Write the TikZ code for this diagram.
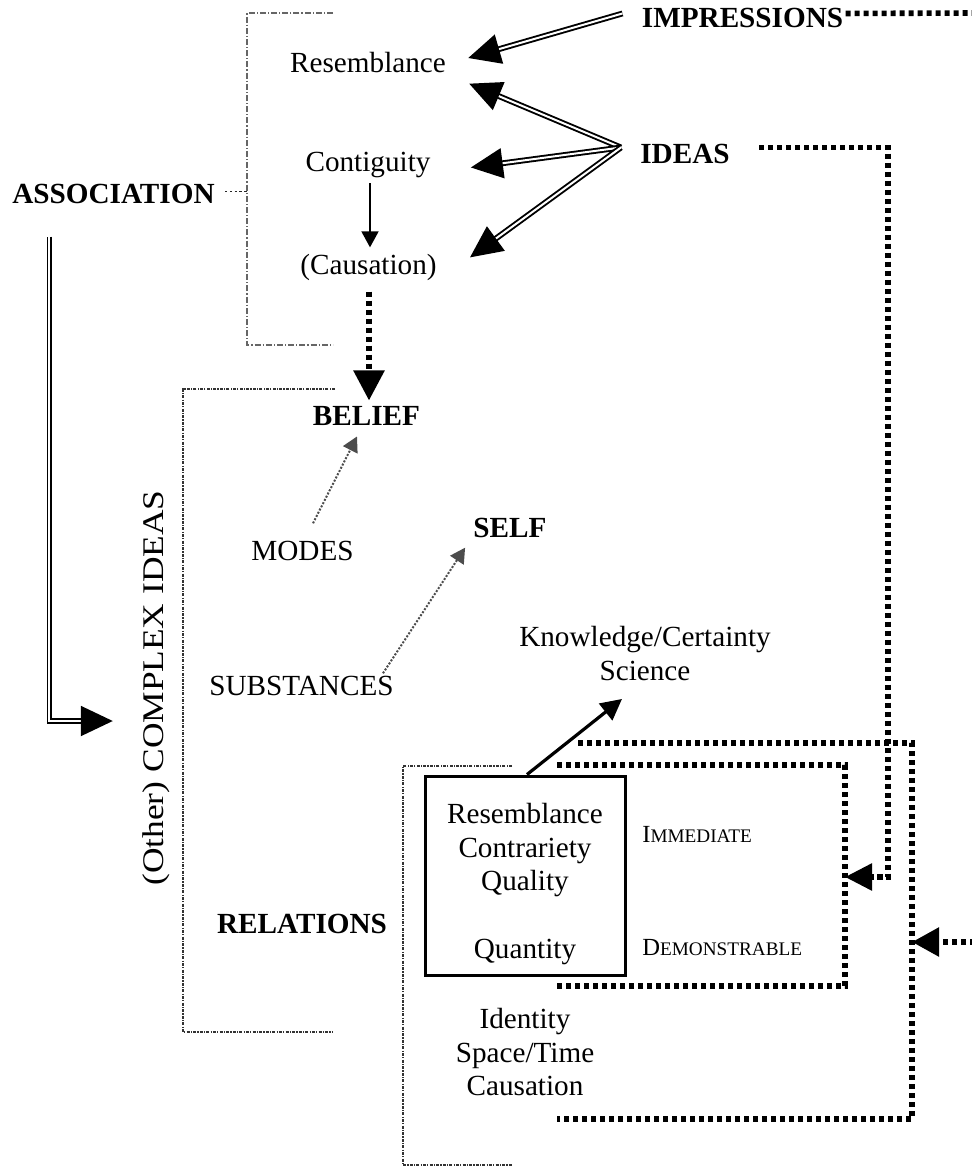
\documentclass[tikz,border=0pt]{standalone}
\usepackage{fontspec}
\setmainfont{Liberation Serif}
\newfontfamily\tallserif{Liberation Serif}[FakeStretch=1.18]
\usetikzlibrary{arrows.meta,calc}

\tikzset{
  lbl/.style={inner sep=0pt, anchor=base, font=\fontsize{14.6}{16.8}\selectfont},
  blbl/.style={lbl, font=\fontsize{14.6}{16.8}\selectfont\bfseries},
  sclbl/.style={inner sep=0pt, anchor=base west, font=\fontsize{12.3}{14}\selectfont},
  dbl/.style={double, double distance=1pt, line width=0.95pt,
              -{Triangle[length=16pt,width=15pt]}},
  thickdots/.style={line width=2.8pt, dash pattern=on 2.6pt off 1.9pt},
  thinarrow/.style={line width=0.9pt, -{Triangle[length=8pt,width=8.5pt]}},
  faint/.style={line width=1pt, black!70, dash pattern=on 1pt off 0.8pt,
                -{Triangle[length=7.5pt,width=8pt]}},
  bracket/.style={line width=0.9pt, black!80,
                  dash pattern=on 1.5pt off 0.6pt on 0.6pt off 0.6pt},
  lightbracket/.style={line width=0.6pt, black!60,
                  dash pattern=on 3pt off 1pt on 0.6pt off 1pt},
}

\begin{document}
\begin{tikzpicture}[x=0.5pt, y=-0.5pt]
\useasboundingbox (0,0) rectangle (971,1167);

% ---- labels ----
\node[blbl] (impr)   at (742.5,27) {IMPRESSIONS};
\node[blbl] (ideas)  at (685,163)  {IDEAS};
\node[blbl] (assoc)  at (113.5,203) {ASSOCIATION};
\node[lbl]  (res)    at (368,72)   {Resemblance};
\node[lbl]  (cont)   at (368,171)  {Contiguity};
\node[lbl]  (caus)   at (368.5,274) {(Causation)};
\node[blbl] (belief) at (366.5,425) {BELIEF};
\node[lbl]  (modes)  at (302.5,560) {MODES};
\node[blbl] (self)   at (510,537)  {SELF};
\node[lbl]  (subst)  at (301.5,695) {SUBSTANCES};
\node[blbl] (rel)    at (302,933)  {RELATIONS};
\node[lbl, anchor=center, align=center] (know) at (645,653.5)
  {Knowledge/Certainty\\Science};
\node[lbl, anchor=center, align=center] (ident) at (525,1052)
  {Identity\\Space/Time\\Causation};
\node[inner sep=0pt, rotate=90, anchor=base,
      font=\tallserif\fontsize{15}{18}\selectfont] (complex) at (163,688)
  {(Other) COMPLEX IDEAS};

% ---- the framed group of relations ----
\node[draw, line width=1.5pt, minimum width=100pt, minimum height=99.5pt,
      inner sep=0pt] (box) at (525,875.5) {};
\node[lbl, anchor=center, align=center] (boxtext) at (525,884)
  {Resemblance\\Contrariety\\Quality\\[16.8pt]Quantity};
\node[sclbl] (imm)  at (642,842) {I{\fontsize{9.6}{11}\selectfont MMEDIATE}};
\node[sclbl] (demo) at (642,955) {D{\fontsize{9.6}{11}\selectfont EMONSTRABLE}};

% ---- brackets ----
\draw[lightbracket] (333,13) -- (247,13) -- (247,345) -- (333,345);
\draw[bracket] (335,389) -- (183,389) -- (183,1032) -- (333,1032);
\draw[bracket] (512,766) -- (403,766) -- (403,1165) -- (512,1165);
\draw[line width=0.9pt, black!85, dash pattern=on 1.2pt off 1.2pt]
  ($(assoc.east)+(10,-2)$) -- +(22,0);

% ---- open dotted frames ----
\coordinate (inMid)  at (845,877);
\coordinate (outMid) at (912,942);
\coordinate (offR)   at (975,942);
\coordinate (offTop) at (975,13);
\draw[thickdots] (557,765) -- (845,765) -- (845,986) -- (557,986);
\draw[thickdots] (578,743) -- (912,743) -- (912,1119) -- (557,1119);

% ---- connectors ----
\draw[dbl] ($(impr.west)+(-19,-4)$) -- ($(res.east)+(22,-4)$);
\draw[dbl] ($(ideas.west)+(-19,-6)$) -- ($(res.south east)+(23,11)$);
\draw[dbl] ($(ideas.west)+(-19,-6)$) -- ($(cont.east)+(40,3)$);
\draw[dbl] ($(ideas.west)+(-19,-6)$) -- ($(caus.east)+(33,-9.6)$);
\draw[dbl] ($(assoc.south west)+(37.5,33)$) |- ($(complex.north)+(-29,33)$);

\draw[thinarrow] ($(cont.south)+(2,5.6)$) -- ($(caus.north)+(1.5,-6)$);
\draw[thickdots, -{Triangle[length=15pt,width=15pt]}]
  ($(caus.south)+(0.5,11)$) -- ($(belief.north)+(2.5,-5)$);
\draw[faint] ($(modes.north)+(10.5,-17)$) -- ($(belief.south)+(-9.5,11)$);
\draw[faint] ($(subst.north)+(81.5,-2)$) -- ($(self.south west)+(-8,10)$);
\draw[line width=1.6pt, -{Triangle[length=10.5pt,width=10.5pt]}]
  ($(box.north)+(2,0)$) -- ($(know.south)+(-23,18)$);

\draw[thickdots] ($(impr.east)+(2,-4)$) -- (offTop);
\draw[thickdots, -{Triangle[length=13.5pt,width=13pt]}]
  ($(ideas.east)+(29,-6)$) -| ($(inMid)+(43,0)$) -- (inMid);
\draw[thickdots, -{Triangle[length=13.5pt,width=14pt]}] (offR) -- (outMid);
\end{tikzpicture}
\end{document}
